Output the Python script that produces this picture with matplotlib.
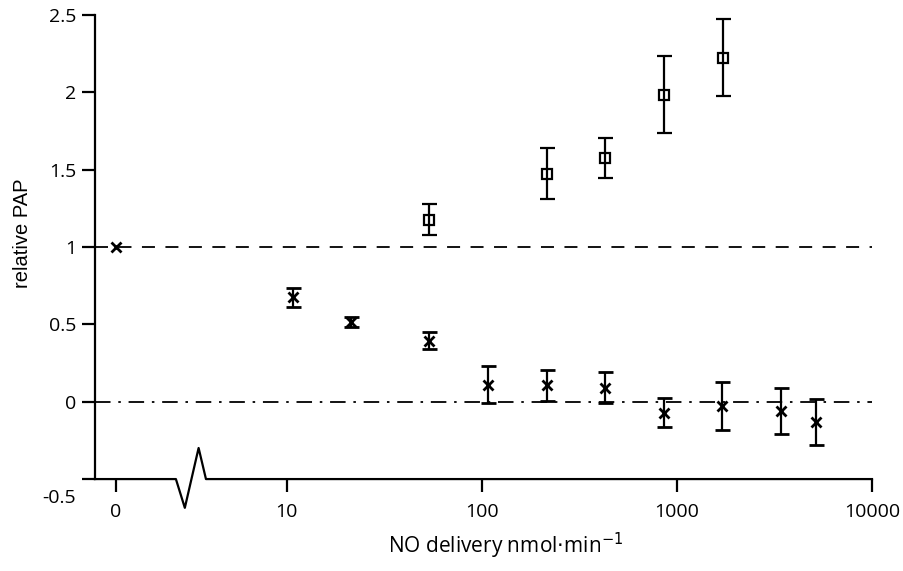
import numpy as np
import matplotlib
matplotlib.use("Agg")
import matplotlib.pyplot as plt
from matplotlib.transforms import ScaledTranslation, blended_transform_factory

plt.rcParams['font.family'] = ['Open Sans', 'DejaVu Sans']
plt.rcParams['axes.unicode_minus'] = False

# Datos (dosis en nmol/min, 0 = sin NO)
doseCross = [0, 10.7, 21.4, 53.4, 108, 216, 426, 857, 1706, 3420, 5180]
papCross = [1.0, 0.675, 0.515, 0.395, 0.11, 0.105, 0.09, -0.07, -0.03, -0.058, -0.13]
errCross = [np.nan, 0.06, 0.035, 0.055, 0.12, 0.10, 0.10, 0.095, 0.155, 0.15, 0.148]

doseSquare = [53.4, 216, 429, 857, 1720]
papSquare = [1.177, 1.475, 1.575, 1.985, 2.225]
errSquare = [0.10, 0.165, 0.13, 0.25, 0.25]

yTicks = [-0.5, 0, 0.5, 1, 1.5, 2, 2.5]
yTickLabels = ["-0.5", "0", "0.5", "1", "1.5", "2", "2.5"]
xTicks = [0, 10, 100, 1000, 10000]
xTickLabels = ["0", "10", "100", "1000", "10000"]

# posicion donde se dibuja la dosis 0 en el eje logaritmico
ZERO_POS = 1.33
XMIN = 1.038

def xpos(values):
    return [ZERO_POS if v == 0 else v for v in values]

fig = plt.figure(figsize=(9.04, 5.71), dpi=100)
ax = fig.add_axes([0.105, 0.161, 0.8596, 0.8126])
ax.set_xscale('log')

# lineas de referencia
ax.axhline(1, color='black', lw=1.3, dashes=(7.2, 5.8))
ax.axhline(0, color='black', lw=1.3, dashes=(8.6, 4.3, 1.4, 4.3))

# serie de cruces
ax.errorbar(xpos(doseCross), papCross, yerr=errCross, fmt='x', color='black',
            ms=6.5, mew=2, elinewidth=1.6, capsize=5.4, capthick=1.8)

# serie de cuadrados
ax.errorbar(doseSquare, papSquare, yerr=errSquare, fmt='s', color='black',
            mfc='none', ms=7, mew=1.6, elinewidth=1.6, capsize=5.4, capthick=1.8)

ax.set_xlim(XMIN, 10000)
ax.set_ylim(-0.5, 2.5)

ax.set_yticks(yTicks)
ax.set_yticklabels(yTickLabels)
ax.set_xticks(xpos(xTicks))
ax.set_xticklabels(xTickLabels)
ax.minorticks_off()

ax.tick_params(axis='both', direction='out', width=1.6, colors='black', labelsize=14)
ax.tick_params(axis='y', length=9.5, pad=4)
ax.tick_params(axis='x', length=9, pad=8)

for s in ['top', 'right', 'bottom']:
    ax.spines[s].set_visible(False)
ax.spines['left'].set_linewidth(1.6)

# eje x con el corte en zigzag
trans = blended_transform_factory(ax.transData, ax.transAxes)
breakX = [XMIN, 2.70, 3.0, 3.53, 3.85, 10000]
breakY = [0, 0, -0.062, 0.067, 0, 0]
ax.plot(breakX, breakY, color='black', lw=1.6, transform=trans, clip_on=False)

# bajar un poco la etiqueta -0.5
lab = ax.get_yticklabels()[0]
lab.set_transform(lab.get_transform() + ScaledTranslation(0, -12 / 72, fig.dpi_scale_trans))

ax.set_ylabel("relative PAP", fontsize=14.5, family=['Liberation Sans', 'DejaVu Sans'])
ax.yaxis.set_label_coords(-0.081, 0.53)
ax.set_xlabel("NO delivery nmol$\\cdot$min$^{-1}$", fontsize=15)
ax.xaxis.set_label_coords(0.529, -0.112)

fig.savefig("out.png", dpi=100)
